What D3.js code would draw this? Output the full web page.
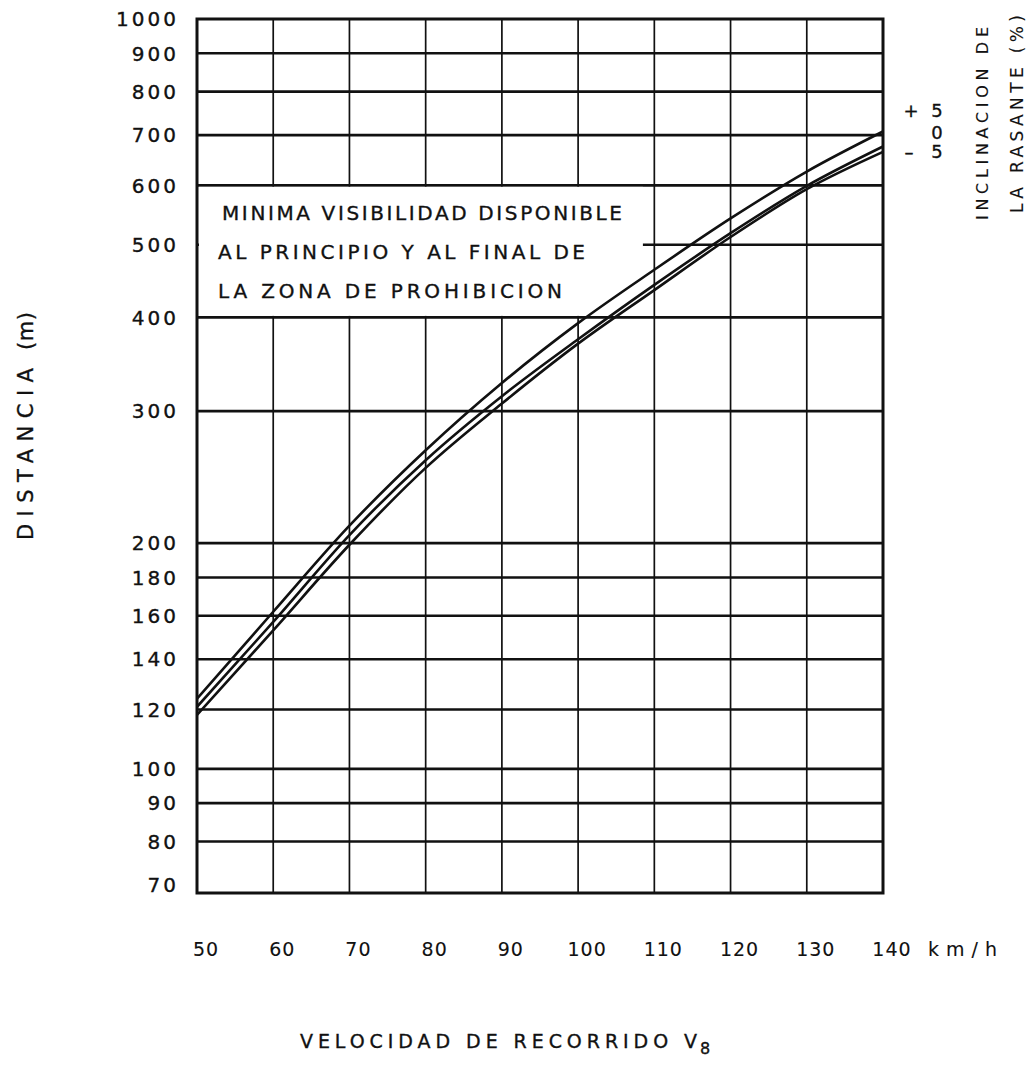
<html>
    <head>
        <title>Distancia de visibilidad</title>
        <style>
            body { margin: 0; background: #fff; }
            text { font-family: "DejaVu Sans", sans-serif; fill: #111; stroke: #111; stroke-width: 0.35px; }
        </style>
    </head>

    <body>
        <script src="https://d3js.org/d3.v7.min.js"></script>
        <script>
            // velocidad de recorrido (km/h) and distancia (m)
            var speeds = [50, 60, 70, 80, 90, 100, 110, 120, 130, 140];
            var distUp5 = [124, 162, 211, 266, 327, 393, 463, 542, 626, 708];
            var distLevel = [121, 157, 205, 258, 314, 374, 442, 518, 599, 676];
            var distDown5 = [118, 153, 199, 252, 307, 369, 435, 512, 593, 665];
            var gradeLabels = ['+', '5', '0', '\u2013', '5'];

            var xTicks = [50, 60, 70, 80, 90, 100, 110, 120, 130, 140];
            var yTicks = [70, 80, 90, 100, 120, 140, 160, 180, 200, 300, 400, 500, 600, 700, 800, 900, 1000];
            var yGrid = [80, 90, 100, 120, 140, 160, 180, 200, 300, 400, 500, 600, 700, 800, 900];
            var noteLines = ['MINIMA VISIBILIDAD DISPONIBLE', 'AL PRINCIPIO Y AL FINAL DE', 'LA ZONA DE PROHIBICION'];

            // note: "top" is taken by window.top, so plot* names
            var plotLeft = 197, plotTop = 19, plotRight = 883, plotBottom = 893;

            var x = d3.scaleLinear().domain([50, 140]).range([plotLeft, plotRight]);
            var y = d3.scaleLog().domain([68.3, 1000]).range([plotBottom, plotTop]);

            var svg = d3.select('body')
            .append('svg')
            .attr('width', 1031)
            .attr('height', 1065);

            svg.append('rect')
            .attr('width', 1031)
            .attr('height', 1065)
            .style('fill', '#fff');

            // grid
            svg.append('g')
            .selectAll('line')
            .data(xTicks.slice(1, -1))
            .enter()
            .append('line')
            .attr('x1', function(d) { return x(d); })
            .attr('x2', function(d) { return x(d); })
            .attr('y1', plotTop)
            .attr('y2', plotBottom)
            .style('stroke', '#111')
            .style('stroke-width', 1.7);

            svg.append('g')
            .selectAll('line')
            .data(yGrid)
            .enter()
            .append('line')
            .attr('x1', plotLeft)
            .attr('x2', plotRight)
            .attr('y1', function(d) { return y(d); })
            .attr('y2', function(d) { return y(d); })
            .style('stroke', '#111')
            .style('stroke-width', 2.6);

            // white note box hides the grid behind the text
            svg.append('rect')
            .attr('x', plotLeft + 2)
            .attr('y', y(600) + 1.5)
            .attr('width', x(108.5) - plotLeft - 2)
            .attr('height', y(400) - y(600) - 3)
            .style('fill', '#fff');

            svg.append('g')
            .selectAll('text')
            .data(noteLines)
            .enter()
            .append('text')
            .attr('x', function(d, i) { return i == 0 ? 222 : 218; })
            .attr('y', function(d, i) { return 220 + i * 39; })
            .attr('textLength', function(d, i) { return [400, 367, 344][i]; })
            .style('font-size', '20px')
            .text(function(d) { return d; });

            // frame
            svg.append('rect')
            .attr('x', plotLeft)
            .attr('y', plotTop)
            .attr('width', plotRight - plotLeft)
            .attr('height', plotBottom - plotTop)
            .style('fill', 'none')
            .style('stroke', '#111')
            .style('stroke-width', 3);

            // curves
            svg.append('clipPath')
            .attr('id', 'plot')
            .append('rect')
            .attr('x', plotLeft)
            .attr('y', plotTop)
            .attr('width', plotRight - plotLeft)
            .attr('height', plotBottom - plotTop);

            var line = d3.line()
            .x(function(d) { return x(d[0]); })
            .y(function(d) { return y(d[1]); })
            .curve(d3.curveMonotoneX);

            var curves = [distUp5, distLevel, distDown5];

            svg.append('g')
            .attr('clip-path', 'url(#plot)')
            .selectAll('path')
            .data(curves)
            .enter()
            .append('path')
            .attr('d', function(d) {
                return line(speeds.map(function(s, i) { return [s, d[i]]; }));
            })
            .style('fill', 'none')
            .style('stroke', '#111')
            .style('stroke-width', 2.6);

            // y axis labels
            svg.append('g')
            .selectAll('text')
            .data(yTicks)
            .enter()
            .append('text')
            .attr('x', 179)
            .attr('y', function(d) { return y(d); })
            .attr('dy', '0.36em')
            .attr('text-anchor', 'end')
            .style('font-size', '20px')
            .style('letter-spacing', '3px')
            .text(function(d) { return d; });

            // x axis labels
            svg.append('g')
            .selectAll('text')
            .data(xTicks)
            .enter()
            .append('text')
            .attr('x', function(d) { return x(d) + 9; })
            .attr('y', 956)
            .attr('text-anchor', 'middle')
            .style('font-size', '19px')
            .style('letter-spacing', '1px')
            .style('stroke-width', '0.1px')
            .text(function(d) { return d; });

            svg.append('text')
            .attr('x', x(140) + 45)
            .attr('y', 956)
            .attr('textLength', 69)
            .style('font-size', '19px')
            .style('stroke-width', '0.1px')
            .text('km/h');

            // axis titles
            svg.append('text')
            .attr('transform', 'translate(33,540) rotate(-90)')
            .attr('textLength', 172)
            .style('font-size', '21px')
            .text('DISTANCIA');

            svg.append('text')
            .attr('transform', 'translate(33,350) rotate(-90)')
            .attr('textLength', 38)
            .style('font-size', '21px')
            .text('(m)');

            svg.append('text')
            .attr('x', 300)
            .attr('y', 1048)
            .attr('textLength', 397)
            .style('font-size', '19px')
            .text('VELOCIDAD DE RECORRIDO V');

            svg.append('text')
            .attr('x', 700)
            .attr('y', 1054)
            .style('font-size', '16px')
            .text('8');

            svg.append('text')
            .attr('transform', 'translate(988,220) rotate(-90)')
            .attr('textLength', 193)
            .style('font-size', '16px')
            .style('stroke-width', '0.1px')
            .text('INCLINACION DE');

            svg.append('text')
            .attr('transform', 'translate(1023,213) rotate(-90)')
            .attr('textLength', 198)
            .style('font-size', '17px')
            .style('stroke-width', '0.1px')
            .text('LA RASANTE (%)');

            // grade labels for the three curves
            var gradePos = [[911, 117], [937, 117], [937, 139], [909, 158], [937, 158]];

            svg.append('g')
            .selectAll('text')
            .data(gradeLabels)
            .enter()
            .append('text')
            .attr('x', function(d, i) { return gradePos[i][0]; })
            .attr('y', function(d, i) { return gradePos[i][1]; })
            .attr('text-anchor', 'middle')
            .style('font-size', '18px')
            .text(function(d) { return d; });
        </script>
    </body>
</html>
